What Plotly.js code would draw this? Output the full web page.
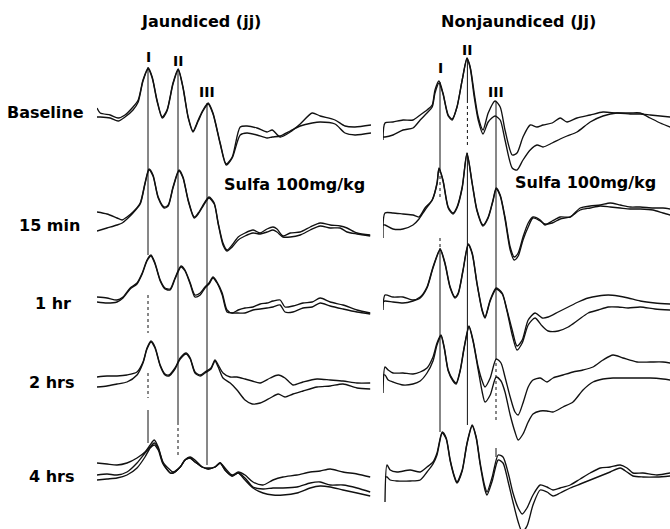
<!DOCTYPE html>
<html>
<head>
<meta charset="utf-8">
<script src="https://cdn.plot.ly/plotly-3.0.1.min.js"></script>
<style>html,body{margin:0;padding:0;background:#fff;}#chart{width:670px;height:529px;}</style>
</head>
<body>
<div id="chart"></div>
<script>
// ---------------- DATA (time in ms after stimulus, amplitude in µV relative to each row) ----------------
const panelTitles = ["Jaundiced (jj)", "Nonjaundiced (Jj)"];
const rowLabels = ["Baseline", "15 min", "1 hr", "2 hrs", "4 hrs"];
const peakNames = ["I", "II", "III"];
const drugLabel = "Sulfa 100mg/kg";

// Jaundiced (jj) — left panel
const jj_t_baseline = [0,0.08,0.33,0.53,0.7,0.9,1.03,1.15,1.28,1.38,1.5,1.63,1.75,1.9,2.03,2.15,2.28,2.4,2.53,2.65,2.78,2.9,3.08,3.23,3.38,3.58,3.75,4.0,4.25,4.38,4.58,4.83,5.08,5.38,5.58,5.95,6.2,6.45,6.85];
const jj_baseline_a = [0.35,0.1,0,-0.15,0,0.4,0.75,1.75,2.35,1.9,0.75,-0.1,0.25,1.6,2.3,1.4,-0.1,-0.8,-0.25,0.25,0.6,0.1,-1.4,-2.45,-2.1,-0.6,-0.55,-0.65,-0.85,-0.75,-1.1,-0.85,-0.45,0.1,-0.05,-0.25,-0.55,-0.6,-0.5];
const jj_baseline_b = [-0.1,-0.1,-0.15,-0.3,-0.1,0.25,0.65,1.7,2.3,1.85,0.7,-0.15,0.2,1.55,2.25,1.35,-0.15,-0.85,-0.3,0.2,0.55,0.05,-1.45,-2.5,-2.15,-1.0,-0.9,-1.0,-1.15,-1.1,-1.05,-0.8,-0.55,-0.4,-0.35,-0.45,-0.9,-1.0,-0.9];

const jj_t_15min = [0,0.25,0.5,0.63,0.75,0.9,1.08,1.2,1.3,1.4,1.53,1.68,1.78,1.9,2.05,2.15,2.28,2.43,2.53,2.7,2.8,2.93,3.03,3.15,3.25,3.38,3.53,3.7,3.9,4.08,4.25,4.4,4.5,4.65,4.83,5.08,5.33,5.58,5.83,6.08,6.25,6.5,6.83];
const jj_15min_a = [0.5,0.4,0.2,0.1,0.25,0.5,0.95,1.95,2.65,2.35,1.25,0.75,0.85,1.75,2.6,2.25,1.1,0.25,0.45,1.0,1.25,0.95,-0.05,-1.05,-1.4,-1.15,-0.75,-0.55,-0.4,-0.55,-0.35,-0.25,-0.35,-0.7,-0.55,-0.5,-0.25,-0.05,-0.15,-0.2,-0.3,-0.55,-0.65];
const jj_15min_b = [-0.45,-0.3,-0.15,-0.05,0.15,0.45,0.9,1.9,2.6,2.3,1.2,0.7,0.8,1.7,2.55,2.2,1.05,0.2,0.4,0.95,1.2,0.9,-0.1,-1.15,-1.45,-1.25,-0.9,-0.7,-0.55,-0.6,-0.5,-0.4,-0.5,-0.75,-0.75,-0.65,-0.4,-0.2,-0.3,-0.3,-0.5,-0.6,-0.7];

const jj_t_1hr = [0,0.25,0.5,0.65,0.83,1.0,1.13,1.25,1.35,1.45,1.58,1.7,1.83,1.95,2.1,2.2,2.33,2.45,2.58,2.7,2.8,2.9,3.0,3.13,3.25,3.38,3.53,3.7,3.9,4.08,4.25,4.4,4.58,4.7,4.9,5.15,5.38,5.58,5.83,6.15,6.5,6.83];
const jj_1hr_a = [0.15,0.1,0,0.15,0.6,0.85,1.35,2.0,2.25,1.85,1.0,0.6,0.55,1.1,1.7,1.5,0.85,0.25,0.35,0.65,0.85,1.15,0.9,0.35,-0.5,-0.65,-0.5,-0.4,-0.35,-0.2,-0.15,-0.05,0,-0.35,-0.3,-0.15,-0.1,0.1,-0.1,-0.25,-0.5,-0.65];
const jj_1hr_b = [-0.1,-0.15,-0.1,0.1,0.55,0.8,1.3,1.95,2.2,1.8,0.95,0.55,0.5,1.05,1.65,1.45,0.8,0.15,0.25,0.6,0.8,1.1,0.85,0.25,-0.6,-0.65,-0.65,-0.65,-0.5,-0.45,-0.4,-0.35,-0.25,-0.6,-0.6,-0.4,-0.35,-0.15,-0.3,-0.45,-0.6,-0.7];

const jj_t_2hrs = [0,0.25,0.5,0.75,1.0,1.15,1.25,1.35,1.45,1.58,1.7,1.8,1.95,2.08,2.23,2.33,2.45,2.58,2.7,2.85,2.95,3.03,3.15,3.33,3.5,3.7,3.88,4.08,4.33,4.53,4.7,4.9,5.15,5.5,5.83,6.15,6.5,6.83];
const jj_2hrs_a = [0,0.05,0.05,0.1,0.25,0.75,1.45,1.8,1.5,0.6,0.15,0.1,0.45,0.95,1.2,0.95,0.25,0.1,0.25,0.45,0.85,0.6,0.2,0,0,-0.1,-0.2,-0.3,-0.05,0.1,-0.05,-0.4,-0.25,-0.1,-0.15,-0.2,-0.3,-0.3];
const jj_2hrs_b = [-0.5,-0.45,-0.35,-0.25,0.1,0.7,1.4,1.75,1.45,0.55,0.1,0.05,0.4,0.9,1.15,0.9,0.2,0.05,0.2,0.4,0.8,0.5,-0.05,-0.3,-0.65,-1.15,-1.35,-1.3,-1.05,-0.85,-1.0,-0.85,-0.7,-0.5,-0.45,-0.35,-0.55,-0.6];

const jj_t_4hrs = [0,0.25,0.5,0.75,1.0,1.2,1.33,1.43,1.53,1.65,1.83,1.9,2.08,2.2,2.33,2.45,2.63,2.78,2.95,3.08,3.2,3.38,3.53,3.7,3.9,4.15,4.4,4.65,5.0,5.33,5.58,5.83,6.15,6.5,6.83];
const jj_4hrs_a = [0.1,0.05,0,0.1,0.35,0.65,1.0,1.25,0.9,0.15,-0.25,-0.35,-0.1,0.25,0.4,0.25,-0.1,-0.15,-0.1,0.1,-0.15,-0.5,-0.35,-0.5,-0.85,-1.0,-0.75,-0.6,-0.5,-0.35,-0.3,-0.2,-0.35,-0.45,-0.6];
const jj_4hrs_b = [-0.5,-0.45,-0.5,-0.35,0.1,0.6,0.9,1.1,0.85,0.1,-0.4,-0.4,-0.1,0.25,0.35,0.15,-0.1,-0.2,-0.1,0.1,-0.25,-0.55,-0.4,-0.65,-1.1,-1.2,-1.15,-1.15,-1.1,-0.9,-0.85,-1.0,-1.0,-1.15,-1.35];
const jj_4hrs_c = [-0.75,-0.7,-0.65,-0.5,-0.15,0.4,0.85,1.0,0.75,0.05,-0.4,-0.4,-0.1,0.25,0.35,0.15,-0.1,-0.2,-0.1,0.1,-0.25,-0.55,-0.4,-0.75,-1.15,-1.4,-1.5,-1.5,-1.4,-1.15,-1.05,-1.1,-1.25,-1.4,-1.55];

// Nonjaundiced (Jj) — right panel
const Jj_t_baseline = [0,0.05,0.25,0.5,0.75,0.93,1.1,1.23,1.3,1.4,1.5,1.63,1.73,1.85,1.98,2.1,2.18,2.28,2.38,2.5,2.63,2.8,2.93,3.05,3.23,3.35,3.5,3.68,3.85,4.0,4.23,4.43,4.6,4.85,5.18,5.5,5.85,6.18,6.43,6.68,6.93,7.18];
const Jj_baseline_a = [-1.25,-0.4,-0.35,-0.25,-0.25,0,0.25,0.5,1.25,1.7,1.1,0,-0.2,0.4,1.75,2.85,2.4,1.1,-0.1,-0.75,0.1,0.7,0.4,-0.75,-2.0,-1.9,-1.1,-0.5,-0.6,-0.5,-0.4,-0.15,-0.35,-0.15,0,0.15,0.1,0.1,0.1,-0.15,-0.4,-0.6];
const Jj_baseline_b = [-1.1,-1.1,-1.0,-0.75,-0.65,-0.25,0.1,0.4,1.1,1.6,1.05,-0.05,-0.25,0.4,1.75,2.8,2.35,0.9,-0.25,-0.95,-0.35,-0.05,-0.25,-1.25,-2.65,-2.75,-2.25,-1.75,-1.5,-1.6,-1.4,-1.2,-1.05,-0.85,-0.35,-0.05,0.1,0.05,0.05,0,-0.05,-0.1];

const Jj_t_15min = [0,0.05,0.25,0.5,0.75,0.9,1.05,1.23,1.35,1.4,1.5,1.63,1.75,1.85,1.98,2.1,2.23,2.35,2.5,2.63,2.75,2.83,2.93,3.05,3.18,3.28,3.38,3.5,3.63,3.75,3.93,4.05,4.23,4.43,4.68,4.93,5.18,5.43,5.68,5.93,6.18,6.43,6.75,7.0,7.18];
const Jj_15min_a = [-0.8,0.45,0.45,0.4,0.35,0.25,0.7,1.1,1.95,2.7,2.1,0.75,0.45,0.75,1.75,3.45,1.95,0.6,-0.15,0.25,1.1,1.7,1.35,0.25,-1.25,-1.75,-1.55,-0.75,-0.05,0.25,0.1,-0.15,0.05,0.25,0.25,0.7,0.8,0.85,0.95,0.85,0.75,0.75,0.7,0.7,0.65];
const Jj_15min_b = [-0.15,-0.15,-0.35,-0.35,-0.15,0.15,0.6,1.1,1.9,2.65,2.05,0.7,0.4,0.7,1.7,3.4,1.9,0.55,-0.2,0.2,1.05,1.65,1.3,0.15,-1.4,-1.9,-1.7,-0.9,-0.25,0.2,0.05,-0.1,-0.05,0.15,0.25,0.6,0.7,0.8,0.75,0.7,0.65,0.65,0.6,0.45,0.35];

const Jj_t_1hr = [0,0.05,0.25,0.5,0.75,0.93,1.1,1.25,1.43,1.55,1.68,1.8,1.88,2.0,2.13,2.23,2.35,2.48,2.55,2.68,2.83,2.98,3.1,3.23,3.35,3.48,3.63,3.8,3.98,4.13,4.38,4.63,4.88,5.13,5.38,5.63,5.88,6.13,6.43,6.8,7.18];
const Jj_1hr_a = [-0.5,0.25,0.15,0.15,0,0.15,0.65,1.65,2.55,1.85,0.65,0.15,0.35,1.5,2.8,2.35,0.85,-0.5,-0.85,0,0.6,0.35,-0.5,-1.5,-2.3,-2.0,-1.0,-0.65,-0.9,-0.85,-0.6,-0.35,-0.1,0.1,0.2,0.25,0.2,0.1,-0.05,-0.15,-0.2];
const Jj_1hr_b = [-0.1,-0.05,-0.1,-0.15,-0.05,0.1,0.6,1.6,2.5,1.8,0.6,0.1,0.3,1.45,2.75,2.3,0.8,-0.55,-0.9,-0.05,0.55,0.3,-0.55,-1.75,-2.5,-2.15,-1.25,-0.9,-1.3,-1.55,-1.55,-1.35,-1.0,-0.65,-0.5,-0.35,-0.35,-0.4,-0.35,-0.45,-0.5];

const Jj_t_2hrs = [0,0.05,0.13,0.25,0.5,0.75,0.93,1.1,1.25,1.35,1.45,1.53,1.63,1.75,1.83,1.93,2.03,2.15,2.25,2.38,2.48,2.55,2.68,2.83,2.95,3.05,3.18,3.3,3.38,3.5,3.63,3.75,3.93,4.1,4.25,4.5,4.75,5.0,5.25,5.5,5.75,6.0,6.35,6.68,7.0,7.18];
const Jj_2hrs_a = [-0.8,0.5,0.35,0.2,0.2,0.15,0.25,0.45,1.0,1.7,2.1,1.5,0.35,-0.15,-0.3,0.35,1.5,2.55,1.85,0.5,-0.2,-0.5,-0.05,0.9,0.7,0,-1.0,-1.75,-1.9,-1.3,-0.5,-0.15,-0.05,-0.25,-0.05,0.1,0.25,0.35,0.5,0.85,1.1,0.95,0.75,0.75,0.75,0.7];
const Jj_2hrs_b = [0.1,0.1,-0.15,-0.25,-0.4,-0.35,-0.2,0.2,0.8,1.6,2.05,1.45,0.3,-0.2,-0.35,0.3,1.45,2.5,1.8,0.35,-0.75,-1.25,-0.9,0,-0.2,-0.75,-1.9,-2.75,-3.15,-2.85,-2.25,-1.85,-1.7,-1.7,-1.75,-1.5,-1.25,-0.65,-0.25,-0.1,-0.05,-0.05,-0.05,-0.05,-0.1,-0.15];

const Jj_t_4hrs = [0.05,0.1,0.18,0.35,0.68,0.93,1.1,1.25,1.35,1.48,1.58,1.68,1.8,1.85,1.98,2.1,2.23,2.33,2.43,2.55,2.6,2.73,2.88,3.0,3.13,3.25,3.38,3.48,3.6,3.75,3.93,4.1,4.25,4.43,4.68,4.93,5.18,5.43,5.68,5.93,6.1,6.25,6.5,6.85,7.18];
const Jj_4hrs_a = [-1.85,0,-0.25,-0.35,-0.25,-0.35,-0.1,0.15,0.6,1.65,1.35,0.25,-0.65,-0.85,-0.25,1.1,2.0,1.4,0.1,-1.1,-1.35,-0.6,0.5,0.4,-0.4,-1.4,-2.15,-2.45,-2.15,-1.5,-1.0,-1.1,-1.25,-1.15,-1.0,-0.7,-0.4,-0.15,-0.1,0,-0.15,-0.4,-0.4,-0.5,-0.4];
const Jj_4hrs_b = [-0.6,-0.6,-0.75,-0.8,-0.8,-0.75,-0.35,0.05,0.5,1.6,1.3,0.2,-0.7,-0.9,-0.3,1.05,1.95,1.35,0,-1.25,-1.5,-0.8,0.25,0.1,-0.85,-1.85,-2.85,-3.35,-3.05,-2.0,-1.25,-1.35,-1.55,-1.4,-1.15,-0.95,-0.75,-0.55,-0.35,-0.15,-0.35,-0.55,-0.6,-0.6,-0.55];

// Peak latencies marked by the vertical lines (ms)
const jjPeakLatency = [1.275, 2.025, 2.75];
const JjPeakLatency = [1.425, 2.11, 2.825];

// ---------------- LAYOUT / DRAWING ----------------
const rowOffsets = [-5.75, -11.1, -15.0, -18.85, -23.25];
const FONT = "DejaVu Sans, Verdana, sans-serif";

const jjRows = [
  [jj_t_baseline, [jj_baseline_a, jj_baseline_b]],
  [jj_t_15min, [jj_15min_a, jj_15min_b]],
  [jj_t_1hr, [jj_1hr_a, jj_1hr_b]],
  [jj_t_2hrs, [jj_2hrs_a, jj_2hrs_b]],
  [jj_t_4hrs, [jj_4hrs_a, jj_4hrs_b, jj_4hrs_c]]
];
const JjRows = [
  [Jj_t_baseline, [Jj_baseline_a, Jj_baseline_b]],
  [Jj_t_15min, [Jj_15min_a, Jj_15min_b]],
  [Jj_t_1hr, [Jj_1hr_a, Jj_1hr_b]],
  [Jj_t_2hrs, [Jj_2hrs_a, Jj_2hrs_b]],
  [Jj_t_4hrs, [Jj_4hrs_a, Jj_4hrs_b]]
];

const traces = [];
function addPanel(rows, xaxis) {
  rows.forEach((row, i) => {
    const t = row[0];
    row[1].forEach(amp => {
      traces.push({
        type: "scatter", mode: "lines", x: t,
        y: amp.map(v => v + rowOffsets[i]),
        xaxis: xaxis, yaxis: "y",
        line: {color: "#111", width: 1.35, shape: "spline", smoothing: 0.7},
        hoverinfo: "skip", showlegend: false
      });
    });
  });
}
addPanel(jjRows, "x");
addPanel(JjRows, "x2");

// vertical peak-marker segments: [peak index, y top, y bottom, dash]
const jjSegs = [
  [0, -3.35, -12.75, "solid"], [0, -14.75, -16.65, "dot"], [0, -18.65, -19.9, "dot"], [0, -20.5, -22.15, "solid"],
  [1, -3.5, -21.1, "solid"], [1, -21.1, -22.9, "dot"],
  [2, -5.15, -23.25, "solid"]
];
const JjSegs = [
  [0, -4.1, -8.5, "solid"], [0, -8.5, -9.85, "dot"], [0, -11.9, -12.4, "dot"], [0, -12.4, -21.6, "solid"],
  [1, -2.9, -5.0, "solid"], [1, -5.0, -7.25, "dot"], [1, -7.65, -21.25, "solid"],
  [2, -5.1, -17.85, "solid"], [2, -17.85, -21.15, "dot"], [2, -22.4, -22.85, "solid"]
];
const shapes = [];
jjSegs.forEach(s => shapes.push({type: "line", xref: "x", yref: "y", x0: jjPeakLatency[s[0]], x1: jjPeakLatency[s[0]], y0: s[1], y1: s[2], line: {color: "#111", width: 1, dash: s[3]}}));
JjSegs.forEach(s => shapes.push({type: "line", xref: "x2", yref: "y", x0: JjPeakLatency[s[0]], x1: JjPeakLatency[s[0]], y0: s[1], y1: s[2], line: {color: "#111", width: 1, dash: s[3]}}));

const W = 670, H = 529;
function paperAnn(text, px, py, size) {
  return {text: "<b>" + text + "</b>", xref: "paper", yref: "paper", x: px / W, y: 1 - py / H,
          xanchor: "center", yanchor: "middle", showarrow: false,
          font: {family: FONT, size: size, color: "#000"}};
}
const annotations = [
  paperAnn(panelTitles[0], 201, 21, 16),
  paperAnn(panelTitles[1], 518, 21, 16),
  paperAnn(drugLabel, 294, 184, 16),
  paperAnn(drugLabel, 585, 183, 16)
];
const rowLabelPos = [[45, 112], [49, 225], [53, 303], [52, 382], [52, 476]];
rowLabels.forEach((lab, i) => annotations.push(paperAnn(lab, rowLabelPos[i][0], rowLabelPos[i][1], 16)));

const jjPeakLabelY = [-2.85, -3.05, -4.6];
const JjPeakLabelY = [-3.4, -2.5, -4.6];
peakNames.forEach((n, k) => {
  annotations.push({text: "<b>" + n + "</b>", xref: "x", yref: "y", x: jjPeakLatency[k], y: jjPeakLabelY[k],
    showarrow: false, xanchor: "center", yanchor: "middle", font: {family: FONT, size: 14, color: "#000"}});
  annotations.push({text: "<b>" + n + "</b>", xref: "x2", yref: "y", x: JjPeakLatency[k], y: JjPeakLabelY[k],
    showarrow: false, xanchor: "center", yanchor: "middle", font: {family: FONT, size: 14, color: "#000"}});
});

const layout = {
  width: W, height: H,
  margin: {l: 0, r: 0, t: 0, b: 0},
  paper_bgcolor: "#fff", plot_bgcolor: "rgba(0,0,0,0)",
  showlegend: false,
  xaxis: {domain: [97 / W, 371 / W], range: [0, 6.85], visible: false, fixedrange: true},
  xaxis2: {domain: [383 / W, 1], range: [0, 7.175], visible: false, anchor: "y", fixedrange: true},
  yaxis: {domain: [0, 1], range: [-26.45, 0], visible: false, fixedrange: true},
  shapes: shapes,
  annotations: annotations
};

Plotly.newPlot("chart", traces, layout, {staticPlot: true, displayModeBar: false});
</script>
</body>
</html>
